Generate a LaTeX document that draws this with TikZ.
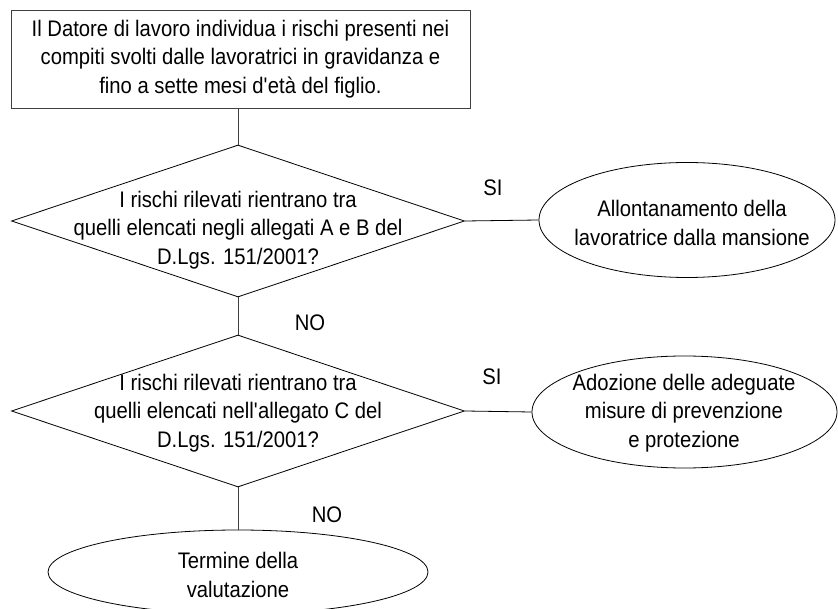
\documentclass[tikz,border=0pt]{standalone}
\usepackage{fontspec}
\setmainfont[FakeStretch=0.9]{Liberation Sans}
\usetikzlibrary{shapes.geometric}
\begin{document}
\begin{tikzpicture}[x=1pt,y=-1pt,
  every node/.style={font=\fontsize{22.5}{28.5}\selectfont, align=center, inner sep=0pt},
  box/.style={draw=black!75, line width=.8pt, minimum width=459pt, minimum height=98pt},
  quest/.style={draw, diamond, line width=.8pt, minimum width=453pt, minimum height=152pt},
  oval/.style={draw, ellipse, line width=.8pt},
  vline/.style={draw=black!75, line width=.8pt},
  hline/.style={draw, line width=.8pt}]
\useasboundingbox (0,0) rectangle (838,609);

\node[box](start)at(240.5,59){Il Datore di lavoro individua i rischi presenti nei\\compiti svolti dalle lavoratrici in gravidanza e\\fino a sette mesi d\textquotesingle et\`a del figlio.};

\node[quest](q1)at(238,221){};
\node(q1txt)at(238,230){I rischi rilevati rientrano tra\\quelli elencati negli allegati A e B del\\D.Lgs. 151/2001?};
\node[quest](q2)at(238,411){};
\node(q2txt)at(238,413){I rischi rilevati rientrano tra\\quelli elencati nell\textquotesingle allegato C del\\D.Lgs. 151/2001?};

\node[oval, minimum width=296pt, minimum height=115pt](yes1)at(687,220){};
\node(yes1txt)at(692,223){Allontanamento della\\lavoratrice dalla mansione};
\node[oval, minimum width=305pt, minimum height=112pt](yes2)at(684.5,412){};
\node(yes2txt)at(684,413){Adozione delle adeguate\\misure di prevenzione\\e protezione};
\node[oval, minimum width=380pt, minimum height=84pt](stop)at(238,572){};
\node(stoptxt)at(238,575){Termine della\\valutazione};

\node(si1)at(493,188){SI};
\node(si2)at(492,377){SI};
\node(no1)at(310,323){NO};
\node(no2)at(327,515){NO};

\draw[vline](start.south -| q1.north) -- (q1.north);
\draw[hline](q1.east) -- (yes1.west);
\draw[vline](q1.south) -- (q2.north);
\draw[hline](q2.east) -- (yes2.west);
\draw[vline](q2.south) -- (stop.north);
\end{tikzpicture}
\end{document}
